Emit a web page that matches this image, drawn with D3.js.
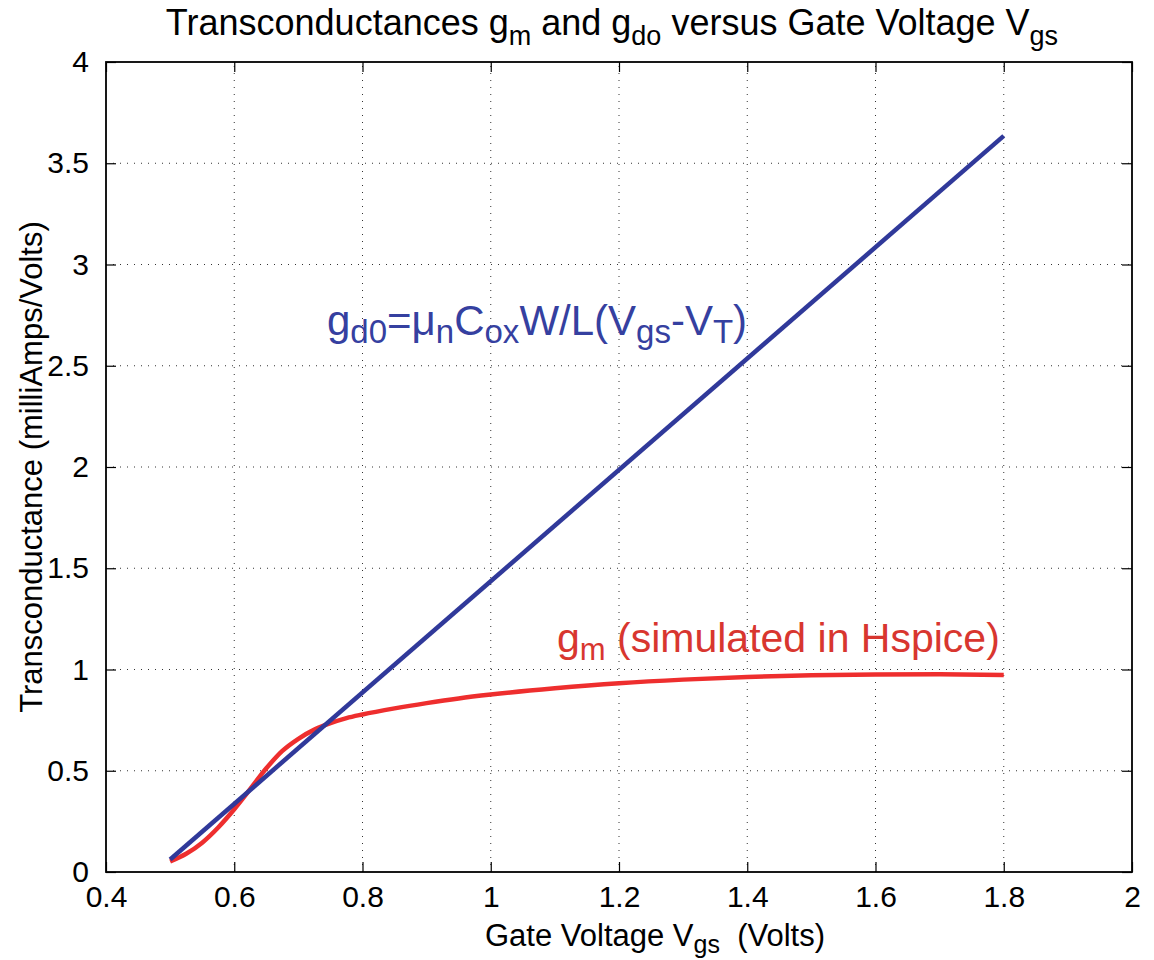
<!DOCTYPE html>
<html>
<head>
<meta charset="utf-8">
<title>Transconductances</title>
<script src="https://cdn.jsdelivr.net/npm/d3@7/dist/d3.min.js"></script>
<style>
body { margin: 0; background: #fff; }
svg { font-family: "Liberation Sans", Arial, sans-serif; }
</style>
</head>
<body>
<script>
  // data
  var vgs = [0.50, 0.525, 0.55, 0.575, 0.60, 0.625, 0.65, 0.675, 0.70, 0.725, 0.75, 0.775, 0.80,
             0.85, 0.90, 0.95, 1.00, 1.10, 1.20, 1.30, 1.40, 1.50, 1.60, 1.70, 1.80];
  var gm = [0.052, 0.09, 0.145, 0.22, 0.31, 0.41, 0.512, 0.598, 0.658, 0.703, 0.735, 0.76, 0.778,
            0.808, 0.834, 0.857, 0.876, 0.907, 0.932, 0.950, 0.963, 0.971, 0.975, 0.976, 0.973];
  var gd0Vgs = [0.5, 1.8];
  var gd0 = [0.062, 3.635];

  var xTicks = [0.4, 0.6, 0.8, 1, 1.2, 1.4, 1.6, 1.8, 2];
  var yTicks = [0, 0.5, 1, 1.5, 2, 2.5, 3, 3.5, 4];

  var width = 1154, height = 960;
  var pLeft = 106, pRight = 1132, pTop = 62, pBottom = 872;

  var svg = d3.select("body").append("svg").attr("width", width).attr("height", height);

  var x = d3.scaleLinear().domain([0.4, 2]).range([pLeft, pRight]);
  var y = d3.scaleLinear().domain([0, 4]).range([pBottom, pTop]);

  // grid
  var grid = svg.append("g").attr("stroke", "#333").attr("stroke-width", 1).attr("stroke-dasharray", "1,6");
  grid.selectAll(".gx").data(xTicks.slice(1, -1)).enter().append("line")
    .attr("x1", function(d) { return x(d); }).attr("x2", function(d) { return x(d); })
    .attr("y1", pBottom).attr("y2", pTop);
  grid.selectAll(".gy").data(yTicks.slice(1, -1)).enter().append("line")
    .attr("y1", function(d) { return y(d); }).attr("y2", function(d) { return y(d); })
    .attr("x1", pLeft).attr("x2", pRight);

  // axes (ticks inside, on all sides)
  function styleAxis(g) {
    g.select(".domain").remove();
    g.selectAll(".tick line").attr("stroke", "#000").attr("stroke-width", 1.2);
    g.selectAll("text").attr("fill", "#000").attr("font-size", 30)
      .attr("font-family", "'Liberation Sans', Arial, sans-serif");
  }
  function noLabels(g) { g.selectAll(".tick text").remove(); }
  var fmt = function(d) { return String(d); };
  svg.append("g").attr("transform", "translate(0," + pBottom + ")")
    .call(d3.axisBottom(x).tickValues(xTicks).tickFormat(fmt).tickSizeInner(-10).tickSizeOuter(0).tickPadding(14))
    .call(styleAxis);
  svg.append("g").attr("transform", "translate(0," + pTop + ")")
    .call(d3.axisTop(x).tickValues(xTicks).tickSizeInner(-10).tickSizeOuter(0))
    .call(styleAxis).call(noLabels);
  svg.append("g").attr("transform", "translate(" + pLeft + ",0)")
    .call(d3.axisLeft(y).tickValues(yTicks).tickFormat(fmt).tickSizeInner(-10).tickSizeOuter(0).tickPadding(17))
    .call(styleAxis);
  svg.append("g").attr("transform", "translate(" + pRight + ",0)")
    .call(d3.axisRight(y).tickValues(yTicks).tickSizeInner(-10).tickSizeOuter(0))
    .call(styleAxis).call(noLabels);

  // box
  svg.append("rect").attr("x", pLeft).attr("y", pTop).attr("width", pRight - pLeft).attr("height", pBottom - pTop)
    .attr("fill", "none").attr("stroke", "#000").attr("stroke-width", 1.8);

  // curves
  var line = d3.line().x(function(d) { return x(d[0]); }).y(function(d) { return y(d[1]); }).curve(d3.curveMonotoneX);
  svg.append("path").datum(d3.zip(vgs, gm)).attr("d", line)
    .attr("fill", "none").attr("stroke", "#ee2e2e").attr("stroke-width", 4.5);
  svg.append("path").datum(d3.zip(gd0Vgs, gd0)).attr("d", line)
    .attr("fill", "none").attr("stroke", "#30399a").attr("stroke-width", 4.5);

  // text with subscripts
  function rich(t, parts, sub) {
    var shift = 0;
    parts.forEach(function(p) {
      var ts = t.append("tspan").text(p.t);
      if (p.s) {
        ts.attr("dy", sub.dy - shift).attr("font-size", sub.size);
        shift = sub.dy;
      } else if (shift) {
        ts.attr("dy", -shift);
        shift = 0;
      }
    });
  }

  var title = svg.append("text").attr("x", 612).attr("y", 35).attr("text-anchor", "middle")
    .attr("font-size", 36).attr("fill", "#000").attr("xml:space", "preserve");
  rich(title, [{t: "Transconductances g"}, {t: "m", s: 1}, {t: " and g"}, {t: "do", s: 1},
               {t: " versus Gate Voltage V"}, {t: "gs", s: 1}], {dy: 10, size: 27});

  var xl = svg.append("text").attr("x", 655).attr("y", 946).attr("text-anchor", "middle")
    .attr("font-size", 31).attr("fill", "#000").attr("xml:space", "preserve");
  rich(xl, [{t: "Gate Voltage V"}, {t: "gs", s: 1}, {t: "  (Volts)"}], {dy: 7, size: 25});

  svg.append("text").attr("transform", "translate(42," + (pTop + pBottom) / 2 + ") rotate(-90)")
    .attr("text-anchor", "middle").attr("font-size", 31).attr("fill", "#000")
    .text("Transconductance (milliAmps/Volts)");

  var blue = svg.append("text").attr("x", 327).attr("y", 335)
    .attr("font-size", 42).attr("fill", "#3540a0");
  rich(blue, [{t: "g"}, {t: "d0", s: 1}, {t: "=\u03bc"}, {t: "n", s: 1}, {t: "C"}, {t: "ox", s: 1},
              {t: "W/L(V"}, {t: "gs", s: 1}, {t: "-V"}, {t: "T", s: 1}, {t: ")"}], {dy: 8, size: 33});

  var red = svg.append("text").attr("x", 557).attr("y", 652)
    .attr("font-size", 41).attr("fill", "#d8362f").attr("xml:space", "preserve");
  rich(red, [{t: "g"}, {t: "m", s: 1}, {t: " (simulated in Hspice)"}], {dy: 8, size: 31});
</script>
</body>
</html>
